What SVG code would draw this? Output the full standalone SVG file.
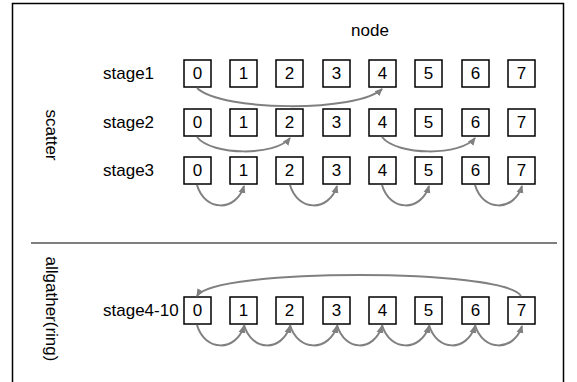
<svg xmlns="http://www.w3.org/2000/svg" width="577" height="382" viewBox="0 0 577 382">
  <style>
    .lbl { font-family: "Liberation Sans", Arial, sans-serif; font-size: 17px; fill: #000; }
    .num { font-family: "Liberation Sans", Arial, sans-serif; font-size: 17px; fill: #000; text-anchor: middle; dominant-baseline: central; }
    .box { fill: #fff; stroke: #000; stroke-width: 1.5; }
    .arc { fill: none; stroke: #808080; stroke-width: 2; marker-end: url(#head); }
  </style>
  <defs>
    <marker id="head" markerUnits="userSpaceOnUse" markerWidth="9" markerHeight="9" refX="7" refY="4.5" orient="auto">
      <path d="M0,1 L8,4.5 L0,8 Z" fill="#808080"/>
    </marker>
  </defs>
  <rect width="577" height="382" fill="#fff"/>

  <!-- outer frame, open at the bottom -->
  <path d="M12.5,382 V3.5 H563.5 V382" fill="none" stroke="#000" stroke-width="1.5"/>
  <!-- divider between scatter and allgather -->
  <line x1="31" y1="243" x2="557" y2="243" stroke="#555" stroke-width="1.5"/>

  <!-- section titles -->
  <text class="lbl" x="370" y="36" text-anchor="middle">node</text>
  <text class="lbl" transform="translate(46,135) rotate(90)" text-anchor="middle">scatter</text>
  <text class="lbl" transform="translate(46,309) rotate(90)" text-anchor="middle" font-size="18">allgather(ring)</text>

  <!-- row labels -->
  <text class="lbl" x="103" y="79">stage1</text>
  <text class="lbl" x="103" y="128">stage2</text>
  <text class="lbl" x="103" y="176">stage3</text>
  <text class="lbl" x="103" y="316">stage4-10</text>

  <!-- stage1 nodes -->
  <g id="stage1">
    <g id="s1-n0"><rect class="box" x="184" y="60" width="27" height="27"/><text class="num" x="197.5" y="73.5">0</text></g>
    <g id="s1-n1"><rect class="box" x="230" y="60" width="27" height="27"/><text class="num" x="243.5" y="73.5">1</text></g>
    <g id="s1-n2"><rect class="box" x="276" y="60" width="27" height="27"/><text class="num" x="289.5" y="73.5">2</text></g>
    <g id="s1-n3"><rect class="box" x="323" y="60" width="27" height="27"/><text class="num" x="336.5" y="73.5">3</text></g>
    <g id="s1-n4"><rect class="box" x="369" y="60" width="27" height="27"/><text class="num" x="382.5" y="73.5">4</text></g>
    <g id="s1-n5"><rect class="box" x="415" y="60" width="27" height="27"/><text class="num" x="428.5" y="73.5">5</text></g>
    <g id="s1-n6"><rect class="box" x="462" y="60" width="27" height="27"/><text class="num" x="475.5" y="73.5">6</text></g>
    <g id="s1-n7"><rect class="box" x="508" y="60" width="27" height="27"/><text class="num" x="521.5" y="73.5">7</text></g>
  </g>

  <!-- stage2 nodes -->
  <g id="stage2">
    <g id="s2-n0"><rect class="box" x="184" y="109" width="27" height="27"/><text class="num" x="197.5" y="122.5">0</text></g>
    <g id="s2-n1"><rect class="box" x="230" y="109" width="27" height="27"/><text class="num" x="243.5" y="122.5">1</text></g>
    <g id="s2-n2"><rect class="box" x="276" y="109" width="27" height="27"/><text class="num" x="289.5" y="122.5">2</text></g>
    <g id="s2-n3"><rect class="box" x="323" y="109" width="27" height="27"/><text class="num" x="336.5" y="122.5">3</text></g>
    <g id="s2-n4"><rect class="box" x="369" y="109" width="27" height="27"/><text class="num" x="382.5" y="122.5">4</text></g>
    <g id="s2-n5"><rect class="box" x="415" y="109" width="27" height="27"/><text class="num" x="428.5" y="122.5">5</text></g>
    <g id="s2-n6"><rect class="box" x="462" y="109" width="27" height="27"/><text class="num" x="475.5" y="122.5">6</text></g>
    <g id="s2-n7"><rect class="box" x="508" y="109" width="27" height="27"/><text class="num" x="521.5" y="122.5">7</text></g>
  </g>

  <!-- stage3 nodes -->
  <g id="stage3">
    <g id="s3-n0"><rect class="box" x="184" y="157" width="27" height="27"/><text class="num" x="197.5" y="170.5">0</text></g>
    <g id="s3-n1"><rect class="box" x="230" y="157" width="27" height="27"/><text class="num" x="243.5" y="170.5">1</text></g>
    <g id="s3-n2"><rect class="box" x="276" y="157" width="27" height="27"/><text class="num" x="289.5" y="170.5">2</text></g>
    <g id="s3-n3"><rect class="box" x="323" y="157" width="27" height="27"/><text class="num" x="336.5" y="170.5">3</text></g>
    <g id="s3-n4"><rect class="box" x="369" y="157" width="27" height="27"/><text class="num" x="382.5" y="170.5">4</text></g>
    <g id="s3-n5"><rect class="box" x="415" y="157" width="27" height="27"/><text class="num" x="428.5" y="170.5">5</text></g>
    <g id="s3-n6"><rect class="box" x="462" y="157" width="27" height="27"/><text class="num" x="475.5" y="170.5">6</text></g>
    <g id="s3-n7"><rect class="box" x="508" y="157" width="27" height="27"/><text class="num" x="521.5" y="170.5">7</text></g>
  </g>

  <!-- stage4-10 nodes -->
  <g id="stage4-10">
    <g id="s4-n0"><rect class="box" x="184" y="297" width="27" height="27"/><text class="num" x="197.5" y="310.5">0</text></g>
    <g id="s4-n1"><rect class="box" x="230" y="297" width="27" height="27"/><text class="num" x="243.5" y="310.5">1</text></g>
    <g id="s4-n2"><rect class="box" x="276" y="297" width="27" height="27"/><text class="num" x="289.5" y="310.5">2</text></g>
    <g id="s4-n3"><rect class="box" x="323" y="297" width="27" height="27"/><text class="num" x="336.5" y="310.5">3</text></g>
    <g id="s4-n4"><rect class="box" x="369" y="297" width="27" height="27"/><text class="num" x="382.5" y="310.5">4</text></g>
    <g id="s4-n5"><rect class="box" x="415" y="297" width="27" height="27"/><text class="num" x="428.5" y="310.5">5</text></g>
    <g id="s4-n6"><rect class="box" x="462" y="297" width="27" height="27"/><text class="num" x="475.5" y="310.5">6</text></g>
    <g id="s4-n7"><rect class="box" x="508" y="297" width="27" height="27"/><text class="num" x="521.5" y="310.5">7</text></g>
  </g>

  <!-- transfers between nodes -->
  <g id="connectors">
    <!-- stage1 -->
    <path class="arc" d="M197,88 C222,112 358,112 382,89"/>
    <!-- stage2 -->
    <path class="arc" d="M197,137 C212,156 276,156 290,138"/>
    <path class="arc" d="M382,137 C397,156 461,156 475,138"/>
    <!-- stage3 -->
    <path class="arc" d="M197,185 C205,212 236,212 244,186"/>
    <path class="arc" d="M290,185 C298,212 329,212 337,186"/>
    <path class="arc" d="M382,185 C390,212 421,212 429,186"/>
    <path class="arc" d="M475,185 C483,212 514,212 522,186"/>
    <!-- ring -->
    <path class="arc" d="M521,296 C505,268 213,268 197,296"/>
    <path class="arc" d="M197,325 C205,352 236,352 244,326"/>
    <path class="arc" d="M244,325 C252,352 282,352 290,326"/>
    <path class="arc" d="M290,325 C298,352 329,352 337,326"/>
    <path class="arc" d="M337,325 C345,352 374,352 382,326"/>
    <path class="arc" d="M382,325 C390,352 421,352 429,326"/>
    <path class="arc" d="M429,325 C437,352 467,352 475,326"/>
    <path class="arc" d="M475,325 C483,352 514,352 522,326"/>
  </g>
</svg>
